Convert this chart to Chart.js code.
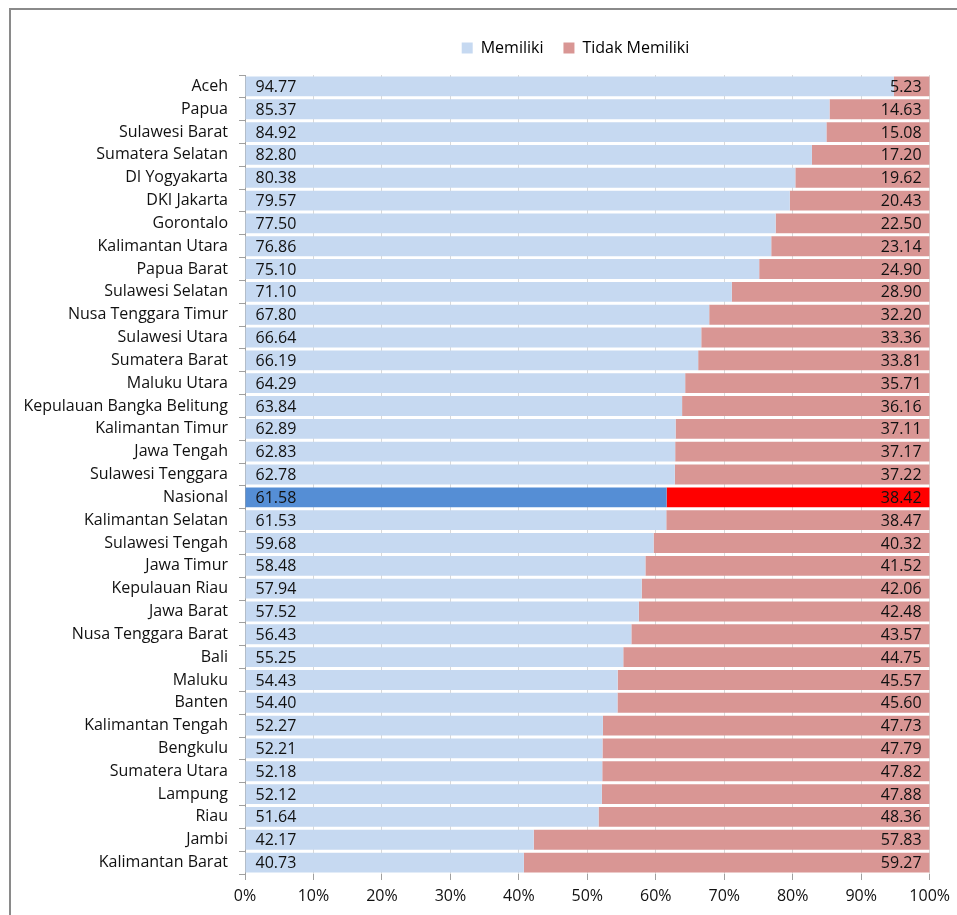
<!DOCTYPE html>
<html>
<head>
<meta charset="utf-8">
<script src="https://cdn.jsdelivr.net/npm/chart.js@4.4.1/dist/chart.umd.min.js"></script>
<style>
  html, body { margin: 0; padding: 0; background: #fff; }
  #wrap { position: relative; width: 957px; height: 915px; overflow: hidden; }
  #frame { position: absolute; left: 9px; top: 8px; width: 1000px; height: 1000px;
           border-left: 2px solid #8a8a8a; border-top: 2px solid #8a8a8a; }
  canvas { position: absolute; left: 0; top: 0; }
</style>
</head>
<body>
<div id="wrap">
  <div id="frame"></div>
  <canvas id="chart" width="957" height="915"></canvas>
</div>
<script>
const provinces = [
  'Aceh', 'Papua', 'Sulawesi Barat', 'Sumatera Selatan', 'DI Yogyakarta', 'DKI Jakarta',
  'Gorontalo', 'Kalimantan Utara', 'Papua Barat', 'Sulawesi Selatan', 'Nusa Tenggara Timur',
  'Sulawesi Utara', 'Sumatera Barat', 'Maluku Utara', 'Kepulauan Bangka Belitung',
  'Kalimantan Timur', 'Jawa Tengah', 'Sulawesi Tenggara', 'Nasional', 'Kalimantan Selatan',
  'Sulawesi Tengah', 'Jawa Timur', 'Kepulauan Riau', 'Jawa Barat', 'Nusa Tenggara Barat',
  'Bali', 'Maluku', 'Banten', 'Kalimantan Tengah', 'Bengkulu', 'Sumatera Utara',
  'Lampung', 'Riau', 'Jambi', 'Kalimantan Barat'
];

const memiliki = [
  94.77, 85.37, 84.92, 82.80, 80.38, 79.57, 77.50, 76.86, 75.10, 71.10, 67.80,
  66.64, 66.19, 64.29, 63.84, 62.89, 62.83, 62.78, 61.58, 61.53, 59.68, 58.48,
  57.94, 57.52, 56.43, 55.25, 54.43, 54.40, 52.27, 52.21, 52.18, 52.12, 51.64,
  42.17, 40.73
];

const tidakMemiliki = [
  5.23, 14.63, 15.08, 17.20, 19.62, 20.43, 22.50, 23.14, 24.90, 28.90, 32.20,
  33.36, 33.81, 35.71, 36.16, 37.11, 37.17, 37.22, 38.42, 38.47, 40.32, 41.52,
  42.06, 42.48, 43.57, 44.75, 45.57, 45.60, 47.73, 47.79, 47.82, 47.88, 48.36,
  57.83, 59.27
];

const xTicks = [0, 10, 20, 30, 40, 50, 60, 70, 80, 90, 100];

const FONT = "'Open Sans', 'Noto Sans', sans-serif";
const highlight = 'Nasional';

// Value labels: "Memiliki" at the start of its bar, "Tidak Memiliki" at the end of its bar
const valueLabels = {
  id: 'valueLabels',
  afterDatasetsDraw(chart) {
    const ctx = chart.ctx;
    ctx.save();
    ctx.font = '16px ' + FONT;
    ctx.fillStyle = '#111';
    ctx.textBaseline = 'middle';
    chart.data.datasets.forEach((ds, di) => {
      const meta = chart.getDatasetMeta(di);
      meta.data.forEach((bar, i) => {
        const txt = ds.data[i].toFixed(2);
        if (di === 0) {
          ctx.textAlign = 'left';
          ctx.fillText(txt, bar.base + 10, bar.y + 1);
        } else {
          ctx.textAlign = 'right';
          ctx.fillText(txt, bar.x - 8, bar.y + 1);
        }
      });
    });
    ctx.restore();
  }
};

// Keep the legend centred above the bars rather than over the whole canvas
const legendShift = {
  id: 'legendShift',
  afterLayout(chart) {
    const lg = chart.legend;
    if (!lg) return;
    const dx = 110, dy = -9;
    lg.left += dx; lg.right += dx;
    lg.top += dy; lg.bottom += dy;
  }
};

new Chart(document.getElementById('chart'), {
  type: 'bar',
  data: {
    labels: provinces,
    datasets: [
      {
        label: 'Memiliki',
        data: memiliki,
        backgroundColor: provinces.map(p => p === highlight ? '#558ED5' : '#C6D9F1'),
        borderWidth: 0
      },
      {
        label: 'Tidak Memiliki',
        data: tidakMemiliki,
        backgroundColor: provinces.map(p => p === highlight ? '#FF0000' : '#D99694'),
        borderWidth: 0
      }
    ]
  },
  options: {
    indexAxis: 'y',
    responsive: false,
    animation: false,
    devicePixelRatio: 1,
    barPercentage: 0.87,
    categoryPercentage: 1,
    layout: { padding: { left: 0, right: 26, top: 29, bottom: 0 } },
    plugins: {
      legend: {
        position: 'top',
        labels: {
          boxWidth: 11,
          boxHeight: 11,
          padding: 20,
          color: '#111',
          font: { family: FONT, size: 16 },
          generateLabels(chart) {
            return chart.data.datasets.map((ds, i) => ({
              text: ds.label,
              fillStyle: i === 0 ? '#C6D9F1' : '#D99694',
              strokeStyle: 'transparent',
              lineWidth: 0,
              datasetIndex: i
            }));
          }
        }
      },
      tooltip: { enabled: false }
    },
    scales: {
      x: {
        stacked: true,
        min: 0,
        max: 100,
        afterBuildTicks(scale) { scale.ticks = xTicks.map(v => ({ value: v })); },
        afterFit(scale) { scale.height = 41; },
        ticks: {
          color: '#111',
          font: { family: FONT, size: 16 },
          padding: 7,
          callback: v => v + '%'
        },
        grid: { color: '#D9D9D9', tickColor: '#A0A0A0', tickLength: 6, lineWidth: 1 },
        border: { display: false }
      },
      y: {
        stacked: true,
        afterFit(scale) { scale.width = 245; },
        ticks: {
          color: '#111',
          font: { family: FONT, size: 16 },
          padding: 11,
          autoSkip: false
        },
        grid: { drawOnChartArea: false, tickColor: '#A0A0A0', tickLength: 6, offset: true },
        border: { display: true, color: '#A0A0A0' }
      }
    }
  },
  plugins: [valueLabels, legendShift]
});
</script>
</body>
</html>
